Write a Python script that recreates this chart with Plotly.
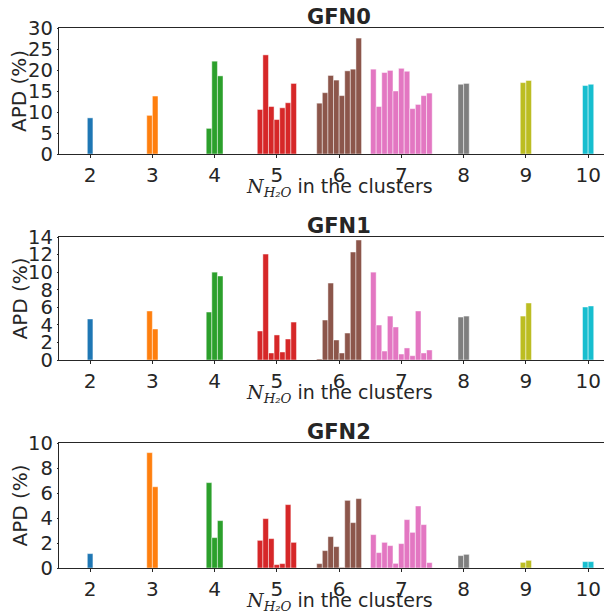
import plotly.graph_objects as go

# Data
n_water = [2, 3, 4, 5, 6, 7, 8, 9, 10]
colors = ["#1f77b4", "#ff7f0e", "#2ca02c", "#d62728", "#8c564b",
          "#e377c2", "#7f7f7f", "#bcbd22", "#17becf"]
panel_titles = ["GFN0", "GFN1", "GFN2"]

gfn0_apd = [
    [8.6],
    [9.2, 13.8],
    [6.1, 22.1, 18.6],
    [10.6, 23.6, 11.3, 8.2, 11.0, 12.2, 16.8],
    [12.1, 14.6, 18.7, 17.6, 13.9, 19.8, 20.2, 27.6],
    [20.2, 11.3, 19.4, 19.9, 15.0, 20.4, 19.7, 10.8, 11.8, 13.9, 14.5],
    [16.6, 16.8],
    [17.0, 17.5],
    [16.3, 16.6],
]
gfn1_apd = [
    [4.67],
    [5.58, 3.53],
    [5.46, 10.0, 9.56],
    [3.3, 12.06, 0.8, 2.85, 0.91, 2.39, 4.32],
    [0.11, 4.55, 8.76, 2.28, 0.8, 3.07, 12.29, 13.66],
    [10.0, 3.98, 1.02, 5.0, 3.76, 0.68, 1.37, 0.49, 5.58, 0.8, 1.14],
    [4.89, 5.0],
    [5.0, 6.49],
    [6.03, 6.15],
]
gfn2_apd = [
    [1.15],
    [9.23, 6.5],
    [6.83, 2.43, 3.79],
    [2.21, 3.95, 2.35, 0.27, 0.35, 5.07, 2.05],
    [0.35, 1.39, 2.51, 1.71, 0.05, 5.41, 3.63, 5.55],
    [2.67, 1.23, 2.05, 1.79, 0.37, 1.95, 3.87, 2.85, 4.96, 3.47, 0.43],
    [0.99, 1.09],
    [0.45, 0.61],
    [0.51, 0.51],
]
y_max = [30, 14, 10]
y_step = [5, 2, 2]

panels = [gfn0_apd, gfn1_apd, gfn2_apd]

# the page adds an 8px body margin; lay out in window pixels minus that offset
OFF = 8
W, H = 612 - OFF, 611 - OFF
bar_w = 0.09
text_col = "#262626"
font_family = "DejaVu Sans"

# panel pixel extents in window coordinates (top, bottom)
panel_px = [(28, 154), (237, 360), (443, 568)]
left_win = 59
left_px = left_win - OFF
px_per_unit = 62.25

xlabel = ('<span style="font-family:DejaVu Serif"><i>N</i>'
          '<sub><i>H₂O</i></sub></span> in the clusters')

fig = go.Figure()
annotations = []
for p, data in enumerate(panels):
    xa = "x" if p == 0 else f"x{p+1}"
    ya = "y" if p == 0 else f"y{p+1}"
    for g, (n, vals) in enumerate(zip(n_water, data)):
        k = len(vals)
        xs = [n + (i - (k - 1) / 2) * bar_w for i in range(k)]
        fig.add_trace(go.Bar(
            x=xs, y=vals, width=bar_w, xaxis=xa, yaxis=ya,
            marker=dict(color=colors[g],
                        line=dict(color="rgba(255,255,255,0.45)", width=1)),
            showlegend=False,
        ))
    top, bot = panel_px[p]
    top -= OFF
    bot -= OFF
    dom_y = [1 - bot / H, 1 - top / H]
    xkey = "xaxis" if p == 0 else f"xaxis{p+1}"
    ykey = "yaxis" if p == 0 else f"yaxis{p+1}"
    x_lo = 1.5
    x_hi = 1.5 + (W - left_px) / px_per_unit
    fig.update_layout(**{
        xkey: dict(domain=[0, 1], range=[x_lo, x_hi], anchor=ya,
                   automargin=False,
                   tickmode="array", tickvals=n_water,
                   ticktext=[str(v) for v in n_water],
                   showline=True, linecolor=text_col, linewidth=1.3,
                   mirror=True, ticks="outside", ticklen=3,
                   tickcolor=text_col, showgrid=False, zeroline=False,
                   tickfont=dict(size=20, color=text_col, family=font_family)),
        ykey: dict(domain=dom_y, range=[0, y_max[p]], anchor=xa,
                   automargin=False,
                   tickmode="linear", tick0=0, dtick=y_step[p],
                   showline=True, linecolor=text_col, linewidth=1.3,
                   ticks="outside", ticklen=1, tickcolor=text_col,
                   showgrid=False, zeroline=False,
                   tickfont=dict(size=19.5, color=text_col, family=font_family)),
    })
    cx = (339 - left_win) / (W - left_px)
    # title
    annotations.append(dict(
        text=f"<b>{panel_titles[p]}</b>", xref="paper", yref="paper",
        x=cx, y=1 - (top - 11) / H,
        xanchor="center", yanchor="middle", showarrow=False,
        font=dict(size=21, color=text_col, family=font_family)))
    # x label
    annotations.append(dict(
        text=xlabel,
        xref="paper", yref="paper",
        x=cx, y=1 - (bot + 33) / H,
        xanchor="center", yanchor="middle", showarrow=False,
        font=dict(size=19, color=text_col, family=font_family)))
    # y label
    annotations.append(dict(
        text="APD (%)", xref="paper", yref="paper",
        x=(19 - left_win) / (W - left_px), y=1 - ((top + bot) / 2) / H,
        xanchor="center", yanchor="middle", textangle=-90, showarrow=False,
        font=dict(size=20, color=text_col, family=font_family)))

fig.update_layout(
    width=W, height=H,
    margin=dict(l=left_px, r=0, t=0, b=0, autoexpand=False),
    paper_bgcolor="white", plot_bgcolor="white",
    barmode="overlay",
    annotations=annotations,
    font=dict(family=font_family, color=text_col),
)

fig.write_html("out.html")
